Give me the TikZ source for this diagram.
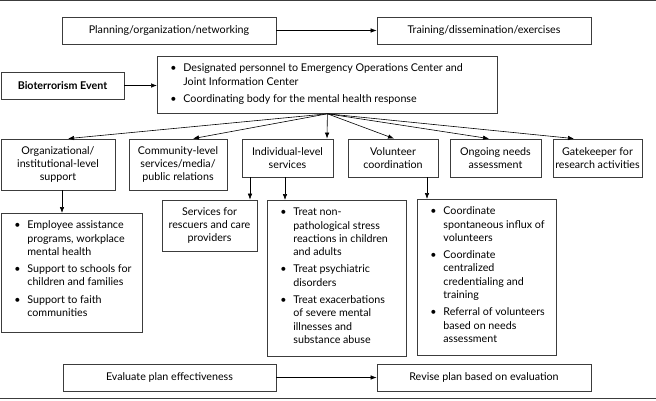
\documentclass[tikz,border=0pt]{standalone}
\usepackage{fontspec}
\setmainfont{Lato}
\usetikzlibrary{arrows.meta}
\definecolor{edge}{HTML}{3C3C3C}
\newcommand{\bul}[2]{\noindent\hspace*{13pt}\makebox[13pt][l]{\textbullet}\parbox[t]{#1}{\raggedright\strut #2\strut}\par}
\newcommand{\blist}[4]{\parbox[b][#2][t]{#1}{\lineskip=0pt\parskip=0pt\vspace*{#3}#4}}
\begin{document}
\begin{tikzpicture}[x=1pt,y=-1pt,
  every node/.style={font=\fontsize{10.7}{13.3}\selectfont},
  box/.style={draw=edge,line width=0.8pt,inner sep=0pt,align=center},
  arr/.style={draw=black,line width=0.6pt,-{Latex[length=6pt,width=4.5pt]}}]
\useasboundingbox (0,0) rectangle (656,400);
\draw[edge,line width=1.3pt] (0,0.6) -- (656,0.6);
\draw[edge,line width=1.3pt] (0,398.6) -- (656,398.6);

\node[box,minimum width=214pt,minimum height=27pt] (plan) at (169,30.5) {Planning/organization/networking};
\node[box,minimum width=214pt,minimum height=27pt] (train) at (484,30.5) {Training/dissemination/exercises};
\node[box,minimum width=123pt,minimum height=27pt] (bio) at (62.5,85.5) {\bfseries Bioterrorism Event};
\node[box,anchor=north west] (coord) at (157,56) {\blist{340pt}{57pt}{6pt}{%
  \bul{310pt}{Designated personnel to Emergency Operations Center and\\Joint Information Center}\vspace{4pt}%
  \bul{310pt}{Coordinating body for the mental health response}}};

\node[box,minimum width=114pt,minimum height=51pt] (org) at (58,164.5) {Organizational/\\institutional-level\\support};
\node[box,minimum width=98pt,minimum height=51pt] (comm) at (178,164.5) {Community-level\\services/media/\\public relations};
\node[box,minimum width=91pt,minimum height=38pt] (indiv) at (287.5,158) {Individual-level\\services};
\node[box,minimum width=90pt,minimum height=38pt] (vol) at (393,158) {Volunteer\\coordination};
\node[box,minimum width=91pt,minimum height=38pt] (ong) at (495.5,158) {Ongoing needs\\assessment};
\node[box,minimum width=89pt,minimum height=38pt] (gate) at (597.5,158) {Gatekeeper for\\research activities};

\node[box,anchor=north west] (orgb) at (1,213) {\blist{141pt}{119pt}{6pt}{%
  \bul{112pt}{Employee assistance\\programs, workplace\\mental health}\vspace{4pt}%
  \bul{112pt}{Support to schools for\\children and families}\vspace{4pt}%
  \bul{112pt}{Support to faith\\communities}}};
\node[box,minimum width=95pt,minimum height=51pt] (resc) at (209.5,225.5) {Services for\\rescuers and care\\providers};
\node[box,anchor=north west] (treat) at (267,200) {\blist{139pt}{156pt}{6pt}{%
  \bul{110pt}{Treat non-\\pathological stress\\reactions in children\\and adults}\vspace{4pt}%
  \bul{110pt}{Treat psychiatric\\disorders}\vspace{4pt}%
  \bul{110pt}{Treat exacerbations\\of severe mental\\illnesses and\\substance abuse}}};
\node[box,anchor=north west] (volb) at (417,199) {\blist{139pt}{156pt}{6pt}{%
  \bul{110pt}{Coordinate\\spontaneous influx of\\volunteers}\vspace{4pt}%
  \bul{110pt}{Coordinate\\centralized\\credentialing and\\training}\vspace{4pt}%
  \bul{110pt}{Referral of volunteers\\based on needs\\assessment}}};

\node[box,minimum width=213pt,minimum height=27pt] (eval) at (169.5,377.5) {Evaluate plan effectiveness};
\node[box,minimum width=214pt,minimum height=27pt] (rev) at (484,377.5) {Revise plan based on evaluation};

\draw[arr] (plan.east) -- (train.west);
\draw[arr] (bio.east) -- (bio.east -| coord.west);
\draw[arr] (eval.east) -- (rev.west);

\draw[arr] (coord.south) -- ([xshift=10pt]org.north);
\draw[arr] (coord.south) -- ([xshift=15pt]comm.north);
\draw[arr] (coord.south) -- ([xshift=39.5pt]indiv.north);
\draw[arr] (coord.south) -- ([xshift=1pt]vol.north);
\draw[arr] (coord.south) -- ([xshift=-6.5pt]ong.north);
\draw[arr] (coord.south) -- ([xshift=-23.5pt]gate.north);

\draw[arr] ([xshift=4pt]org.south) -- ([xshift=4pt]org.south |- orgb.north);
\draw[arr] ([xshift=-37.5pt]indiv.south) -- ([xshift=-37.5pt]indiv.south |- resc.north);
\draw[arr] ([xshift=-2.5pt]indiv.south) -- ([xshift=-2.5pt]indiv.south |- treat.north);
\draw[arr] ([xshift=34pt]vol.south) -- ([xshift=34pt]vol.south |- volb.north);
\end{tikzpicture}
\end{document}
